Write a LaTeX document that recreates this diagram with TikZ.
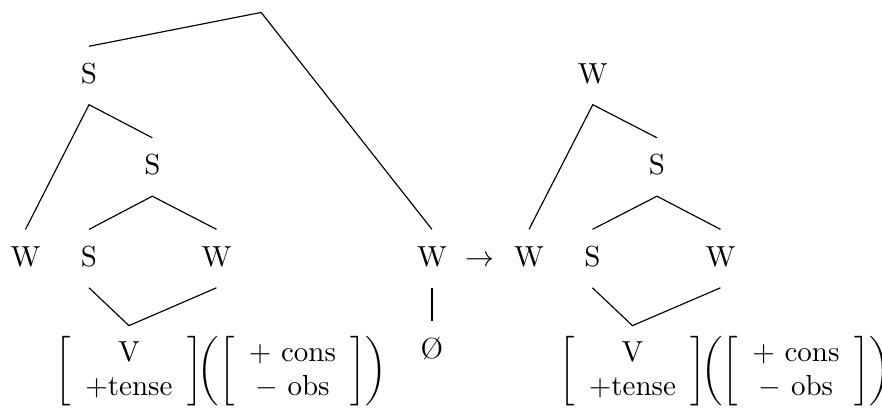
\documentclass[tikz,border=0pt]{standalone}
\usepackage{amsmath, amssymb}
\usepackage{tikz}

\begin{document}
\begin{tikzpicture}[
    tnode/.style={text height=1.5ex, text depth=.25ex, inner xsep=2pt, inner ysep=6.1pt},
    fmat/.style={inner xsep=0pt, inner ysep=3.6pt}]
          \useasboundingbox (0,0) rectangle (10.689,5.005);

          % Left tree: labels
          \coordinate (top) at (3.165,4.854);
          \node[tnode] (s1) at (1.079,4.090) {S};
          \node[tnode] (s2) at (1.846,2.981) {S};
          \node[tnode] (w1) at (0.309,1.871) {W};
          \node[tnode] (s3) at (1.079,1.871) {S};
          \node[tnode] (w2) at (2.624,1.871) {W};
          \node[tnode] (w3) at (5.235,1.871) {W};
          \node[tnode] (null) at (5.235,0.756) {\O};

          % Rule arrow
          \node[tnode] (arr) at (5.823,1.871) {$\rightarrow$};

          % Right tree: labels
          \node[tnode] (wr) at (7.184,4.090) {W};
          \node[tnode] (s4) at (7.962,2.981) {S};
          \node[tnode] (w4) at (6.411,1.871) {W};
          \node[tnode] (s5) at (7.180,1.871) {S};
          \node[tnode] (w5) at (8.732,1.871) {W};

          % Feature matrices under both trees
          \node[fmat] (v1) at (1.563,0.503)
            {$\left[\begin{array}{c} \text{V} \\ +\text{tense} \end{array}\right]$};
          \node[inner sep=0pt, anchor=west, xshift=-2pt] (c1) at (v1.east)
            {$\left(\left[\begin{array}{c} +\ \text{cons} \\ -\ \text{obs} \end{array}\right]\right)$};
          \node[fmat] (v2) at (7.665,0.503)
            {$\left[\begin{array}{c} \text{V} \\ +\text{tense} \end{array}\right]$};
          \node[inner sep=0pt, anchor=west, xshift=-2pt] (c2) at (v2.east)
            {$\left(\left[\begin{array}{c} +\ \text{cons} \\ -\ \text{obs} \end{array}\right]\right)$};

          % Left tree: branches
          \draw (s1.north) -- (top) -- (w3.north);
          \draw (w1.north) -- (s1.south) -- (s2.north);
          \draw (s3.north) -- (s2.south) -- (w2.north);
          \draw (s3.south) -- (v1.north) -- (w2.south);
          \draw (w3.south) -- (null.north);

          % Right tree: branches
          \draw (w4.north) -- (wr.south) -- (s4.north);
          \draw (s5.north) -- (s4.south) -- (w5.north);
          \draw (s5.south) -- (v2.north) -- (w5.south);

        \end{tikzpicture}
\end{document}
